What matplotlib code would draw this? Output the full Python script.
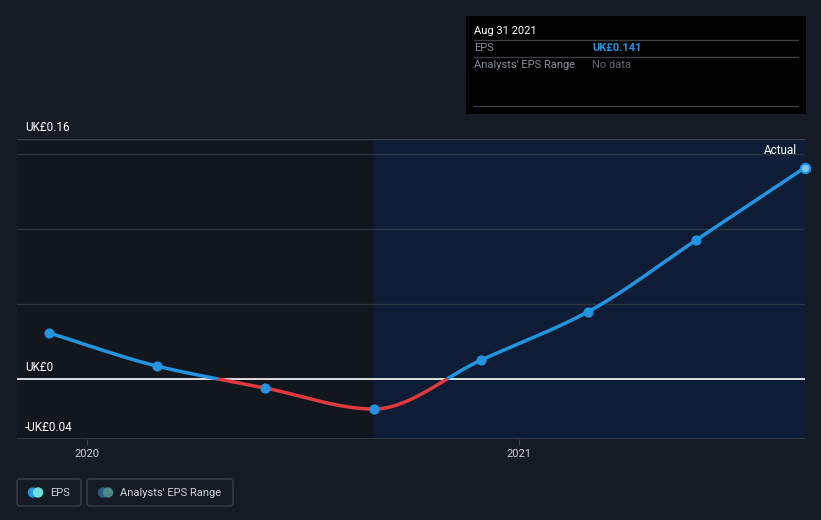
import numpy as np
import pandas as pd
import matplotlib
matplotlib.use("Agg")
import matplotlib.pyplot as plt
import matplotlib.dates as mdates
from matplotlib.patches import FancyBboxPatch, Circle, Rectangle

plt.rcParams['font.family'] = ['Roboto', 'DejaVu Sans']

dates = ["2019-11-30", "2020-02-29", "2020-05-31", "2020-08-31",
         "2020-11-30", "2021-02-28", "2021-05-31", "2021-08-31"]
eps = [0.0307, 0.0087, -0.006, -0.020, 0.0127, 0.0447, 0.0927, 0.141]
ytick_vals = [0.16, 0.0, -0.04]
ytick_labels = ["UK£0.16", "UK£0", "-UK£0.04"]
xtick_dates = ["2020-01-01", "2021-01-01"]
xtick_labels = ["2020", "2021"]

BG = "#151b24"
BLUE = "#2394df"
RED = "#e0393e"

x = mdates.date2num(pd.to_datetime(dates))
y = np.array(eps)
xt = mdates.date2num(pd.to_datetime(xtick_dates))


def pchip(xs, ys, xn):
    # monotone cubic (Fritsch-Carlson) just for drawing a smooth line
    h = np.diff(xs)
    d = np.diff(ys) / h
    m = np.zeros_like(ys)
    for i in range(1, len(xs) - 1):
        if d[i - 1] * d[i] > 0:
            w1 = 2 * h[i] + h[i - 1]
            w2 = h[i] + 2 * h[i - 1]
            m[i] = (w1 + w2) / (w1 / d[i - 1] + w2 / d[i])
    m[0] = d[0]
    m[-1] = d[-1]
    idx = np.clip(np.searchsorted(xs, xn) - 1, 0, len(xs) - 2)
    t = (xn - xs[idx]) / h[idx]
    h00 = 2 * t**3 - 3 * t**2 + 1
    h10 = t**3 - 2 * t**2 + t
    h01 = -2 * t**3 + 3 * t**2
    h11 = t**3 - t**2
    return h00 * ys[idx] + h10 * h[idx] * m[idx] + h01 * ys[idx + 1] + h11 * h[idx] * m[idx + 1]


xs = np.linspace(x[0], x[-1], 800)
ys = pchip(x, y, xs)

fig = plt.figure(figsize=(8.21, 5.2), dpi=100, facecolor=BG)
ax = fig.add_axes([17 / 821, 81 / 520, 788 / 821, 300 / 520])
ax.set_facecolor(BG)

x_left = xt[0] - 70 / 432 * 365.25
ax.set_xlim(x_left, x[-1])
ax.set_ylim(-0.04, 0.16)
px = (x[-1] - x_left) / 788

# past / forecast shading
ax.axvspan(x_left, x[3], color="#12161e", zorder=0)
ax.axvspan(x[3], x[-1], color="#0e1d35", zorder=0)

for g in [0.15, 0.10, 0.05]:
    ax.axhline(g, color="#2c3440", lw=1, zorder=1)
ax.axhline(0.16, color="#3a414c", lw=1, zorder=1)
ax.axhline(-0.04, color="#3a414c", lw=1.2, zorder=1)
ax.axhline(0, color="white", lw=1.2, zorder=2)

pos = np.ma.masked_where(ys < 0, ys)
neg = np.ma.masked_where(ys > 0, ys)
ax.plot(xs, pos, color=BLUE, lw=2.5, zorder=3, solid_capstyle="round")
ax.plot(xs, neg, color=RED, lw=2.5, zorder=3, solid_capstyle="round")
ax.scatter(x[:-1], y[:-1], s=40, color=BLUE, zorder=4)
ax.scatter(x[-1:], y[-1:], s=45, color="#7cc4f5", edgecolor=BLUE, lw=1.5, zorder=4, clip_on=False)

for v, lab in zip(ytick_vals, ytick_labels):
    ax.text(x_left + 8 * px, v + 0.0035, lab, color="white",
            fontsize=8.5, ha="left", va="bottom", zorder=5)

ax.text(x[-1] - 8 * px, 0.152, "Actual", color="white",
        fontsize=8.5, ha="right", va="center", zorder=5)

ax.set_yticks([])
ax.set_xticks(xt)
ax.set_xticklabels(xtick_labels, color="#cfd3d8", fontsize=8)
ax.tick_params(axis="x", length=4, color="#3a414c", pad=3)
for s in ax.spines.values():
    s.set_visible(False)

# overlay in pixel coordinates for tooltip and legend
ov = fig.add_axes([0, 0, 1, 1], facecolor="none")
ov.set_xlim(0, 821)
ov.set_ylim(520, 0)
ov.axis("off")

ov.add_patch(Rectangle((466, 16), 340, 98, facecolor="black", zorder=1))
ov.text(474, 31, "Aug 31 2021", color="white", fontsize=8, va="center", zorder=3)
ov.text(474, 48, "EPS", color="#8a9099", fontsize=8, va="center", zorder=3)
ov.text(592, 48, "UK£0.141", color=BLUE, fontsize=8, va="center", weight="bold", zorder=3)
ov.text(474, 65, "Analysts' EPS Range", color="#8a9099", fontsize=8, va="center", zorder=3)
ov.text(592, 65, "No data", color="#5f656e", fontsize=8, va="center", zorder=3)
for ly in [40, 57, 106]:
    ov.plot([474, 798], [ly, ly], color="#3c3f44", lw=1, zorder=2)

for x0, w in [(17, 64), (87, 146)]:
    ov.add_patch(FancyBboxPatch((x0, 479), w, 27, boxstyle="round,pad=0,rounding_size=3",
                                facecolor=BG, edgecolor="#3a414c", lw=1, zorder=1))
ov.add_patch(Circle((33, 492.5), 4.5, color=BLUE, zorder=2))
ov.add_patch(Circle((38, 492.5), 4.5, color="#6ee0d8", zorder=2))
ov.add_patch(Circle((103, 492.5), 4.5, color="#2b5f8a", zorder=2))
ov.add_patch(Circle((108, 492.5), 4.5, color="#4a8a8a", zorder=2))
ov.text(50, 493, "EPS", color="#cfd3d8", fontsize=8, va="center", zorder=3)
ov.text(120, 493, "Analysts' EPS Range", color="#cfd3d8", fontsize=8, va="center", zorder=3)

fig.savefig("out.png", dpi=100, facecolor=BG)
